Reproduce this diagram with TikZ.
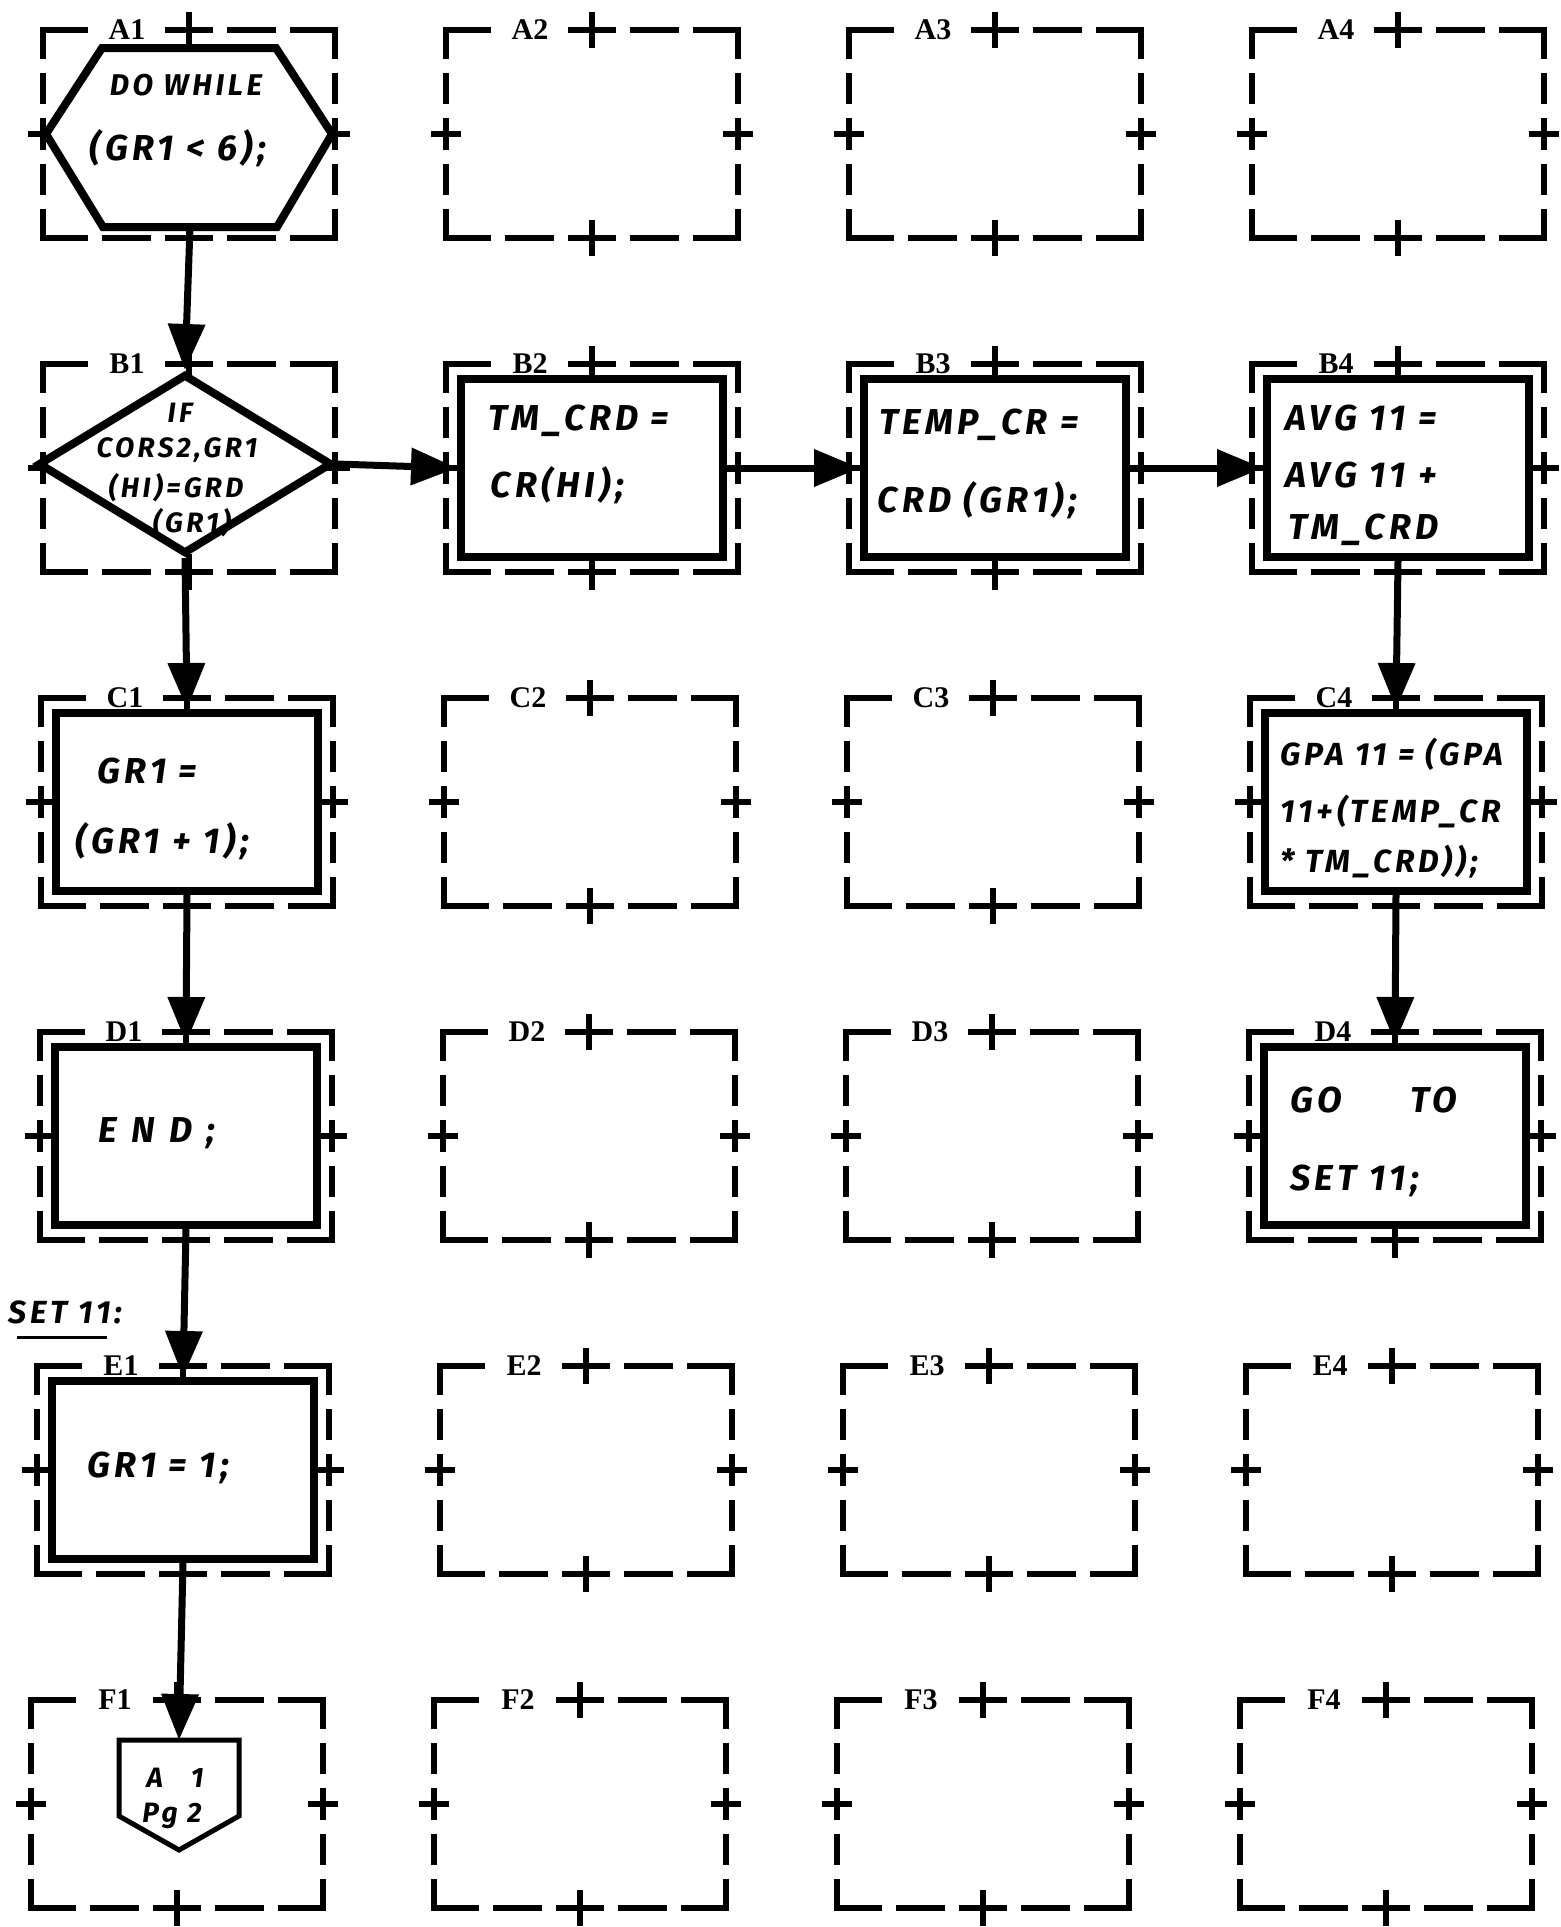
\documentclass[tikz,border=0pt]{standalone}
\usepackage{fontspec}
\usetikzlibrary{calc,positioning,arrows.meta,shapes.geometric}
\newfontfamily\handfont[LetterSpace=12]{Fira Sans}
\newfontfamily\tagfont{Liberation Serif}
\newcommand{\Hand}{\handfont\bfseries\itshape\fontsize{18}{21}\selectfont}
\newcommand{\Tight}{\handfont\bfseries\itshape\fontsize{16}{18}\selectfont}
\newcommand{\Small}{\handfont\bfseries\itshape\fontsize{14}{16}\selectfont}
\newcommand{\Tag}{\tagfont\bfseries\fontsize{15}{15}\selectfont}

\begin{document}
\begin{tikzpicture}[x=0.5pt,y=-0.5pt,
    frame/.style={line width=3pt},
    hdash/.style={frame, line cap=rect, dash pattern=on 21.2pt off 10pt},
    vdash/.style={frame, line cap=rect, dash pattern=on 12.8pt off 10pt},
    tag/.style={font=\Tag, fill=white, inner sep=0pt, minimum width=25pt, minimum height=8pt},
    procbox/.style={draw, line width=4pt, fill=white, minimum width=131pt, minimum height=89pt, inner sep=0pt},
    decision/.style={diamond, draw, line width=4pt, fill=white, minimum width=147pt, minimum height=90pt, inner sep=0pt},
    hand/.style={font=\Hand, inner sep=0pt, anchor=west, text height=13pt, text depth=3pt},
    tight/.style={hand, font=\Tight},
    small/.style={hand, font=\Small, anchor=center},
    flow/.style={line width=3.5pt, -{Triangle[length=23pt,width=18pt]}}]

  \useasboundingbox (0,0) rectangle (1560,1927);

  % dashed chart grid
  \foreach \r/\rn/\s in {1/A/0, 2/B/0, 3/C/-2, 4/D/-3, 5/E/-6, 6/F/-12}{
    \foreach \c in {1,...,4}{
      \pgfmathsetmacro{\x}{43+403*(\c-1)+\s}
      \pgfmathsetmacro{\y}{30+334*(\r-1)}
      \draw[hdash] (\x,\y) -- ++(292,0);
      \draw[hdash] (\x,\y+208) -- ++(292,0);
      \draw[vdash] (\x,\y) -- ++(0,208);
      \draw[vdash] (\x+292,\y) -- ++(0,208);
      \draw[frame] (\x+146,\y-18) -- ++(0,36) (\x+146,\y+190) -- ++(0,36)
                   (\x-15,\y+104) -- ++(30,0) (\x+277,\y+104) -- ++(30,0);
      \node[tag] at (\x+84,\y) {\rn\c};
      \coordinate (c\rn\c) at (\x+146,\y+104);
    }
  }

  % A1: loop
  \draw[line width=4pt, fill=white] ($(cA1)+(-143,0)$) -- ($(cA1)+(-87,-86)$) -- ($(cA1)+(87,-86)$)
    -- ($(cA1)+(143,0)$) -- ($(cA1)+(88,93)$) -- ($(cA1)+(-86,93)$) -- cycle;
  \coordinate (a1) at ($(cA1)+(1,93)$);
  \node[small, font=\handfont\bfseries\itshape\fontsize{15}{17}\selectfont] at (186,85) {DO WHILE};
  \node[hand, anchor=center] at (178,150) {(GR1 < 6);};

  % B row
  \node[decision] (b1) at ($(cB1)+(-4,-4)$) {};
  \node[small] at (180,412) {IF};
  \node[small] at (177,447) {CORS2,GR1};
  \node[small] at (176,487) {(HI)=GRD};
  \node[small] at (192,522) {(GR1)};
  \node[procbox] (b2) at (cB2) {};
  \node[hand] at (488,420) {TM\_CRD =};
  \node[hand] at (490,487) {CR(HI);};
  \node[procbox] (b3) at (cB3) {};
  \node[hand] at (879,424) {TEMP\_CR =};
  \node[hand] at (877,502) {CRD (GR1);};
  \node[procbox] (b4) at (cB4) {};
  \node[hand] at (1285,420) {AVG 11 =};
  \node[hand] at (1285,477) {AVG 11 +};
  \node[hand] at (1288,529) {TM\_CRD};

  % C row
  \node[procbox] (c1) at (cC1) {};
  \node[hand] at (97,773) {GR1 =};
  \node[hand] at (75,843) {(GR1 + 1);};
  \node[procbox] (c4) at (cC4) {};
  \node[tight] at (1280,755) {GPA 11 = (GPA};
  \node[tight] at (1280,812) {11+(TEMP\_CR};
  \node[tight] at (1280,862) {* TM\_CRD));};

  % D row
  \node[procbox] (d1) at (cD1) {};
  \node[hand] at (98,1132) {\addfontfeature{LetterSpace=40}END;};
  \node[procbox] (d4) at (cD4) {};
  \node[hand] at (1290,1102) {GO\hspace{34pt}TO};
  \node[hand] at (1290,1180) {SET 11;};

  % E row
  \node[tight] (lbl) at (8,1313) {SET 11:};
  \draw[line width=1.5pt] (17,1337) -- (107,1337);
  \node[procbox] (e1) at (cE1) {};
  \node[hand] at (87,1467) {GR1 = 1;};

  % F1: off-page connector
  \draw[line width=2.5pt, fill=white] ($(cF1)+(-58,-64)$) -- ($(cF1)+(62,-64)$) -- ($(cF1)+(62,12)$)
    -- ($(cF1)+(2,46)$) -- ($(cF1)+(-58,12)$) -- cycle;
  \coordinate (f1) at ($(cF1)+(2,-64)$);
  \node[small] at (175,1777) {A\hspace{14pt}1};
  \node[small] at (172,1812) {Pg 2};

  % flow lines
  \draw[flow] (a1) -- (b1.north);
  \draw[flow] (b1.east) -- (b2.west);
  \draw[flow] (b2.east) -- (b3.west);
  \draw[flow] (b3.east) -- (b4.west);
  \draw[flow] (b1.south) -- (c1.north);
  \draw[flow] (b4.south) -- (c4.north);
  \draw[flow] (c1.south) -- (d1.north);
  \draw[flow] (c4.south) -- (d4.north);
  \draw[flow] (d1.south) -- (e1.north);
  \draw[flow] (e1.south) -- (f1);
\end{tikzpicture}
\end{document}
